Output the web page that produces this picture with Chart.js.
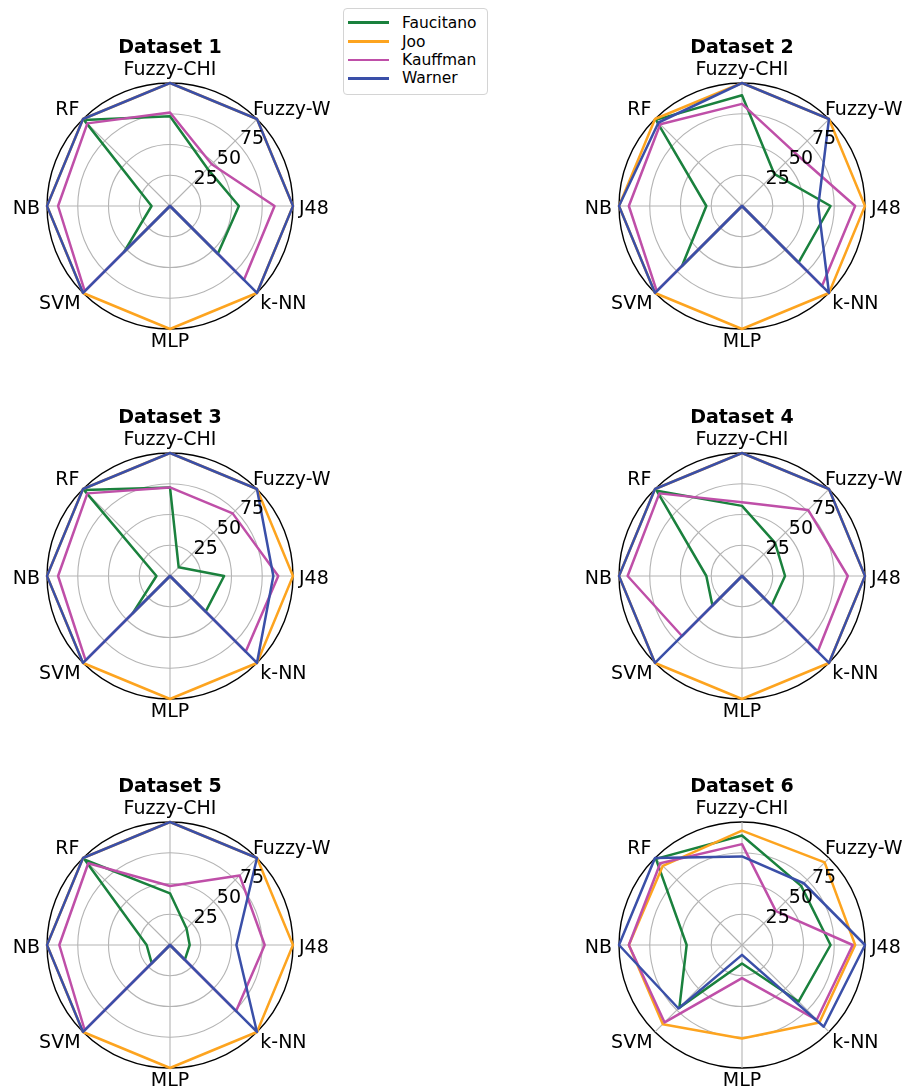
<!DOCTYPE html>
<html>
<head>
<meta charset="utf-8">
<script src="https://cdn.jsdelivr.net/npm/chart.js@4.4.1/dist/chart.umd.min.js"></script>
<style>
  html, body { margin: 0; padding: 0; background: #fff; }
  body { width: 907px; height: 1088px; overflow: hidden; position: relative; }
  canvas { position: absolute; }
  #legend {
    position: absolute; left: 343px; top: 8px; width: 145px; height: 87px;
    box-sizing: border-box; border: 1px solid #d4d4d4; border-radius: 4px;
    background: #fff; font-family: "DejaVu Sans", sans-serif; font-size: 15.5px; color: #000;
  }
  #legend .sw { position: absolute; left: 4px; width: 41px; height: 2.5px; }
  #legend .lt { position: absolute; left: 58px; height: 18px; line-height: 18px; white-space: nowrap; }
</style>
</head>
<body>
<div id="legend"></div>
<script>
// Classifier axes, clockwise from the top
const categories = ['Fuzzy-CHI', 'Fuzzy-W', 'J48', 'k-NN', 'MLP', 'SVM', 'NB', 'RF'];
const panelTitles = ['Dataset 1', 'Dataset 2', 'Dataset 3', 'Dataset 4', 'Dataset 5', 'Dataset 6'];
const seriesNames = ['Faucitano', 'Joo', 'Kauffman', 'Warner'];
const radialTicks = [25, 50, 75];

// One row per dataset, one value per classifier
const faucitano = [
  [73, 43, 56, 55, 0, 53, 15, 99],
  [90, 37, 72, 65, 0, 69, 29, 99],
  [72, 10, 44, 41, 0, 43, 11, 99],
  [57, 38, 35, 34, 0, 34, 29, 98],
  [42, 19, 16, 17, 0, 21, 19, 98],
  [89, 68, 72, 65, 15, 72, 45, 99]
];
const joo = [
  [100, 100, 100, 100, 100, 100, 100, 100],
  [100, 100, 100, 100, 100, 100, 100, 100],
  [100, 100, 100, 100, 100, 100, 100, 100],
  [100, 100, 100, 100, 100, 100, 100, 100],
  [100, 100, 100, 100, 100, 100, 100, 100],
  [93, 95, 92, 89, 76, 91, 92, 91]
];
const kauffman = [
  [76, 48, 85, 85, 0, 98, 91, 95],
  [83, 61, 92, 92, 0, 98, 92, 94],
  [72, 72, 88, 87, 0, 97, 91, 95],
  [60, 76, 86, 87, 0, 69, 93, 95],
  [48, 80, 77, 76, 0, 98, 90, 94],
  [82, 39, 90, 86, 27, 89, 92, 94]
];
const warner = [
  [100, 100, 100, 100, 0, 100, 100, 100],
  [100, 100, 62, 100, 0, 100, 100, 96],
  [100, 100, 84, 100, 0, 100, 100, 100],
  [100, 100, 100, 100, 0, 100, 100, 100],
  [100, 100, 54, 100, 0, 100, 100, 100],
  [72, 71, 100, 94, 8, 73, 100, 100]
];

const seriesScores = [faucitano, joo, kauffman, warner];
const seriesColors = ['#1a813d', '#fda41f', '#bf4fa8', '#3a4fa8'];

// Panel layout: centre of each polar plot on the page
const PANEL_CENTERS = [[170, 206], [742, 206], [170, 576], [742, 576], [170, 945], [742, 945]];
const CANVAS_W = 400, CANVAS_H = 360, CX = 200, CY = 185, RADIUS = 123;

const FONT = '"DejaVu Sans", sans-serif';
const LABEL_SIZE = 19;

// Placement of the axis labels around the rim (per direction): alignment, x shift, baseline shift
const LABEL_PLACEMENT = [
  ['center', 0, -7.8],
  ['left', -4, -4.4],
  ['left', 6, 7.6],
  ['left', 3.3, 16],
  ['center', 0, 18.3],
  ['right', -2.5, 16],
  ['right', -7, 7.6],
  ['right', -3.6, -4.4]
];

// Legend
const legendEl = document.getElementById('legend');
const legendRows = [13.7, 32.7, 51, 69.3];
seriesNames.forEach((name, s) => {
  const sw = document.createElement('div');
  sw.className = 'sw';
  sw.style.top = (legendRows[s] - 1.25) + 'px';
  sw.style.background = seriesColors[s];
  legendEl.appendChild(sw);
  const lt = document.createElement('div');
  lt.className = 'lt';
  lt.style.top = (legendRows[s] - 9) + 'px';
  lt.textContent = name;
  legendEl.appendChild(lt);
});

// Title, axis labels and radial tick labels drawn around each polar plot
const panelText = {
  id: 'panelText',
  afterDatasetsDraw(chart) {
    const r = chart.scales.r;
    const ctx = chart.ctx;
    ctx.save();
    ctx.fillStyle = '#000';
    ctx.font = LABEL_SIZE + 'px ' + FONT;
    ctx.textAlign = 'center';
    ctx.textBaseline = 'alphabetic';
    const a = 49 * Math.PI / 180;
    radialTicks.forEach(v => {
      const d = r.getDistanceFromCenterForValue(v);
      const x = r.xCenter + d * Math.sin(a) + 12.5;
      const y = r.yCenter - d * Math.cos(a) - 8.5;
      ctx.fillText(String(v), x, y + 7);
    });
    ctx.restore();
  },
  afterDraw(chart) {
    const r = chart.scales.r;
    const ctx = chart.ctx;
    ctx.save();
    ctx.fillStyle = '#000';
    ctx.textBaseline = 'alphabetic';
    ctx.font = LABEL_SIZE + 'px ' + FONT;
    chart.data.labels.forEach((label, i) => {
      const p = r.getPointPosition(i, r.drawingArea);
      const [align, dx, dy] = LABEL_PLACEMENT[i];
      ctx.textAlign = align;
      ctx.fillText(label, p.x + dx, p.y + dy);
    });
    ctx.font = 'bold ' + LABEL_SIZE + 'px ' + FONT;
    ctx.textAlign = 'center';
    ctx.fillText(chart.options.plugins.panelText.title, r.xCenter, r.yCenter - 153.3);
    ctx.restore();
  }
};

PANEL_CENTERS.forEach((c, k) => {
  const canvas = document.createElement('canvas');
  canvas.width = CANVAS_W;
  canvas.height = CANVAS_H;
  canvas.style.left = (c[0] - CX) + 'px';
  canvas.style.top = (c[1] - CY) + 'px';
  document.body.appendChild(canvas);

  new Chart(canvas, {
    type: 'radar',
    data: {
      labels: categories,
      datasets: seriesNames.map((name, s) => ({
        label: name,
        data: seriesScores[s][k],
        borderColor: seriesColors[s],
        backgroundColor: seriesColors[s],
        borderWidth: 2.5,
        borderJoinStyle: 'round',
        fill: false,
        pointRadius: 0,
        pointHoverRadius: 0,
        tension: 0,
        order: seriesNames.length - s
      }))
    },
    options: {
      responsive: false,
      animation: false,
      events: [],
      layout: {
        padding: {
          left: CX - RADIUS,
          right: CANVAS_W - CX - RADIUS,
          top: CY - RADIUS,
          bottom: CANVAS_H - CY - RADIUS
        }
      },
      plugins: {
        legend: { display: false },
        tooltip: { enabled: false },
        panelText: { title: panelTitles[k] }
      },
      scales: {
        r: {
          min: 0,
          max: 100,
          ticks: { stepSize: 25, display: false },
          pointLabels: { display: false },
          grid: {
            circular: true,
            color: ctx => (ctx.tick && ctx.tick.value === 100) ? '#000000' : '#b4b4b4',
            lineWidth: ctx => (ctx.tick && ctx.tick.value === 100) ? 1.4 : 1.1
          },
          angleLines: { color: '#b4b4b4', lineWidth: 1.1 }
        }
      }
    },
    plugins: [panelText]
  });
});
</script>
</body>
</html>
